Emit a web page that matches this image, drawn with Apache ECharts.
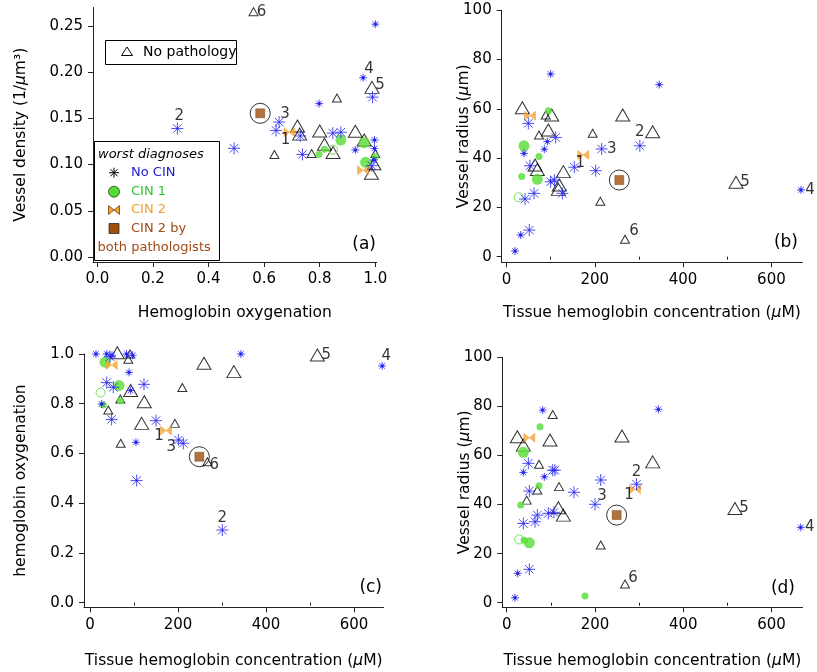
<!DOCTYPE html>
<html><head><meta charset="utf-8">
<script src="https://cdn.jsdelivr.net/npm/echarts@6/dist/echarts.min.js"></script>
<style>html,body{margin:0;padding:0;background:#fff}#c{width:817px;height:672px}</style>
</head><body><div id="c"></div>
<script>
// ================= DATA =================
// Panel (a): x = hemoglobin oxygenation, y = vessel density (1/um^3)
const aNoCinBig = [[0.288,0.139],[0.492,0.1176],[0.654,0.146],[0.643,0.137],[0.73,0.131],[0.738,0.111],[0.847,0.134],[0.876,0.135],[0.990,0.173],[0.988,0.0988]];
const aNoCinSmall = [[1.0,0.252],[0.956,0.194],[0.798,0.166],[0.928,0.1158],[0.997,0.1266],[0.997,0.1176],[0.995,0.105]];
const aCin1Big = [[0.876,0.1266],[0.965,0.1025],[0.960,0.1237]];
const aCin1Small = [[0.797,0.111],[0.817,0.1166],[1.0,0.1085]];
const aCin1Open = [[0.848,0.116]];
const aCin2 = [[0.691,0.135],[0.956,0.094]];
const aCin2Both = [[0.586,0.1555]];
const aNoPathBig = [[0.72,0.1418],[0.80,0.1364],[0.928,0.136],[0.960,0.1266],[0.986,0.0906],[0.988,0.1836],[0.728,0.133],[0.848,0.113],[0.817,0.122],[0.995,0.101]];
const aNoPathSmall = [[0.562,0.2655],[0.862,0.172],[0.637,0.111],[0.771,0.112],[1.0,0.112]];
const aNotes = [[0.562,0.2655,'6'],[0.288,0.139,'2'],[0.956,0.194,'4'],[0.988,0.1836,'5'],[0.654,0.146,'3'],[0.691,0.135,'1']];

// Panel (b): x = tissue hemoglobin concentration (uM), y = vessel radius (um)
const bNoCinBig = [[49.4,54.1],[111.4,48.4],[53.2,36.9],[100,30.4],[108.3,31.1],[126.4,25.7],[153.6,36.3],[215.6,43.7],[202,34.9],[41.9,23.4],[62.3,25.7],[51.6,10.8],[302,45]];
const bNoCinSmall = [[100,74.1],[92.4,46.7],[85.6,43.6],[39.6,41.9],[32.2,8.8],[19.3,2.3],[346,69.8],[667,27.1]];
const bCin1Big = [[39.6,45],[69.8,31.4]];
const bCin1Small = [[73.6,40.6],[34.4,32.5],[94.7,59.2]];
const bCin1Open = [[27.6,24.1]];
const bCin2 = [[53.2,57.2],[174,41.3]];
const bCin2Both = [[255.5,31.1]];
const bNoPathBig = [[35.8,60.4],[102.4,57.5],[94.7,51.4],[64.6,37.2],[69.8,35.4],[128.7,34.5],[119.6,29.1],[117.4,27.3],[263.2,57.5],[331,50.7],[519.8,30.2]];
const bNoPathSmall = [[88.8,57.5],[73.6,49.4],[195.2,50.1],[212.5,22.5],[268.4,7.06]];
const bNotes = [[302,45,'2'],[215.6,43.7,'3'],[174,41.3,'1'],[268.4,7.06,'6'],[519.8,30.2,'5'],[667,27.1,'4']];

// Panel (c): x = tissue hemoglobin concentration (uM), y = hemoglobin oxygenation
const cNoCinBig = [[45.5,0.989],[38,0.885],[53,0.866],[122.7,0.878],[49.2,0.737],[150,0.732],[200.8,0.654],[212,0.641],[106,0.491],[300.8,0.292]];
const cNoCinSmall = [[13.6,1.0],[38,1.0],[50,0.995],[83,1.0],[97,0.995],[88.6,0.926],[92.4,0.853],[26.5,0.799],[104.5,0.645],[343,1.0],[664,0.952]];
const cCin1Big = [[34,0.967],[66,0.873]];
const cCin1Small = [[69,0.812],[30,0.795]];
const cCin1Open = [[24.2,0.845]];
const cCin2 = [[49.2,0.956],[172.7,0.692]];
const cCin2Both = [[248.5,0.587]];
const cNoPathBig = [[62,1.005],[92.4,0.853],[123.4,0.808],[117.4,0.721],[259,0.963],[327,0.929],[516.7,0.996]];
const cNoPathSmall = [[91,1.0],[87,0.979],[69,0.819],[41.6,0.775],[193,0.721],[209.8,0.865],[69.8,0.641],[266.6,0.567]];
const cNotes = [[172.7,0.692,'1'],[200.8,0.654,'3'],[266.6,0.567,'6'],[300.8,0.292,'2'],[516.7,0.996,'5'],[664,0.952,'4']];

// Panel (d): x = tissue hemoglobin concentration (uM), y = vessel radius (um)
const dNoCinBig = [[49,56.8],[104.2,54],[109,54],[213,50],[51.2,45.5],[152.4,45],[200,40.1],[69.4,35.7],[64,33],[37.6,32.3],[94.3,36.4],[107,36.8],[51.2,13.6],[294,48.3]];
const dNoCinSmall = [[81.5,78.5],[37.6,53.1],[85.2,51.3],[24.9,12],[18.8,2.0],[343.4,78.8],[666,30.7]];
const dCin1Big = [[37.6,61.3],[51.2,24.4]];
const dCin1Small = [[75.4,71.7],[73.2,47.7],[31.7,39.8],[39.2,25.5],[177.3,2.7]];
const dCin1Open = [[27.9,25.8]];
const dCin2 = [[51.2,67.2],[290.6,46.2]];
const dCin2Both = [[249,35.7]];
const dNoPathBig = [[24,67.6],[98,66.3],[37.6,64.2],[261,67.9],[116.9,38.7],[128.2,35.7],[330.7,57.4],[517,38.4]];
const dNoPathSmall = [[104.2,76.7],[73.2,56.4],[118.5,47.3],[69.4,45.9],[45.3,41.8],[213,23.5],[268,7.6]];
const dNotes = [[200,40.1,'3'],[294,48.3,'2'],[290.6,46.2,'1'],[268,7.6,'6'],[517,38.4,'5'],[666,30.7,'4']];

// tick values
const ticksOxy = [0,0.2,0.4,0.6,0.8,1.0];
const ticksDensity = [0,0.05,0.10,0.15,0.20,0.25];
const ticksConc = [0,200,400,600];
const ticksConcMinor = [100,300,500];
const ticksRadius = [0,20,40,60,80,100];

// ================= STYLE / LAYOUT =================
const FONT = 'DejaVu Sans';
const BLUE = '#2020ee', GREEN = '#55dd33', ORANGE = '#f5a533', BROWN = '#a0500c';
const STAR = 'path://M0,-10L0,10M-10,0L10,0M-7.07,-7.07L7.07,7.07M-7.07,7.07L7.07,-7.07';
const STAR_DOT = STAR + 'M3,0A3,3,0,1,1,-3,0A3,3,0,1,1,3,0Z';
const BOWTIE = 'path://M-10,-8L0,0L-10,8ZM10,-8L0,0L10,8Z';

// axis extents include a small margin so the two axis lines meet at the corner, as in the original
const panels = [
  {grid:{left:93,top:7.5,width:283.7,height:254.5}, xr:[-0.0155,1.005], yr:[-0.0054,0.27], xt:ticksOxy, xm:[], yt:ticksDensity, xd:1, yd:2,
   xname:'Hemoglobin oxygenation', yname:'Vessel density (1/{i|μ}m³)', xgap:43, ygap:64,
   s:[aNoCinBig,aNoCinSmall,aCin1Big,aCin1Small,aCin1Open,aCin2,aCin2Both,aNoPathBig,aNoPathSmall], notes:aNotes,
   off:[[8,0],[2,-12],[6,-9],[8,-2],[6,-8],[-4,8]], letter:'(a)', lx:376, ly:245},
  {grid:{left:501.7,top:10.2,width:300.6,height:252.1}, xr:[-10.9,670], yr:[-2.27,100], xt:ticksConc, xm:ticksConcMinor, yt:ticksRadius, xd:0, yd:0,
   xname:'Tissue hemoglobin concentration ({i|μ}M)', yname:'Vessel radius ({i|μ}m)', xgap:43, ygap:30,
   s:[bNoCinBig,bNoCinSmall,bCin1Big,bCin1Small,bCin1Open,bCin2,bCin2Both,bNoPathBig,bNoPathSmall], notes:bNotes,
   off:[[0,-14],[10,0],[-3,8],[9,-8],[9,0],[9,0]], letter:'(b)', lx:798, ly:243},
  {grid:{left:84,top:354,width:299.5,height:253.3}, xr:[-13.6,667], yr:[-0.0185,1], xt:ticksConc, xm:ticksConcMinor, yt:ticksOxy, xd:0, yd:1,
   xname:'Tissue hemoglobin concentration ({i|μ}M)', yname:'hemoglobin oxygenation', xgap:46, ygap:55,
   s:[cNoCinBig,cNoCinSmall,cCin1Big,cCin1Small,cCin1Open,cCin2,cCin2Both,cNoPathBig,cNoPathSmall], notes:cNotes,
   off:[[-7,6],[-7,7],[7,3],[0,-12],[9,0],[4,-10]], letter:'(c)', lx:382, ly:588},
  {grid:{left:502.3,top:357.3,width:300.2,height:250}, xr:[-10,670], yr:[-1.87,100], xt:ticksConc, xm:ticksConcMinor, yt:ticksRadius, xd:0, yd:0,
   xname:'Tissue hemoglobin concentration ({i|μ}M)', yname:'Vessel radius ({i|μ}m)', xgap:46, ygap:29,
   s:[dNoCinBig,dNoCinSmall,dCin1Big,dCin1Small,dCin1Open,dCin2,dCin2Both,dNoPathBig,dNoPathSmall], notes:dNotes,
   off:[[7,-8],[0,-12],[-6,6],[8,-6],[9,0],[9,0]], letter:'(d)', lx:795, ly:589}
];

const grids = [], xAxes = [], yAxes = [], series = [], graphics = [];
const nameStyle = {color:'#000', fontSize:15.5, fontFamily:FONT, rich:{i:{fontStyle:'italic', fontSize:15.5, fontFamily:FONT}}};
const lineSt = {color:'#222', width:1};

panels.forEach((p, gi) => {
  grids.push(p.grid);
  const xi = xAxes.length;
  xAxes.push({type:'value', gridIndex:gi, position:'bottom', min:p.xr[0], max:p.xr[1],
    axisLine:{show:true, onZero:false, lineStyle:lineSt},
    axisTick:{show:true, length:5, customValues:p.xt, lineStyle:lineSt},
    axisLabel:{customValues:p.xt, margin:10, color:'#000', fontSize:15, fontFamily:FONT, formatter:v=>v.toFixed(p.xd)},
    splitLine:{show:false}, name:p.xname, nameLocation:'middle', nameGap:p.xgap, nameMoveOverlap:false, nameTextStyle:nameStyle});
  xAxes.push({type:'value', gridIndex:gi, position:'bottom', min:p.xr[0], max:p.xr[1],
    axisLine:{show:false}, axisTick:{show:p.xm.length>0, length:3, customValues:p.xm.length?p.xm:[0], lineStyle:lineSt},
    axisLabel:{show:false}, splitLine:{show:false}});
  yAxes.push({type:'value', gridIndex:gi, position:'left', min:p.yr[0], max:p.yr[1],
    axisLine:{show:true, onZero:false, lineStyle:lineSt},
    axisTick:{show:true, length:5, customValues:p.yt, lineStyle:lineSt},
    axisLabel:{customValues:p.yt, margin:10, color:'#000', fontSize:15, fontFamily:FONT, formatter:v=>v.toFixed(p.yd)},
    splitLine:{show:false}, name:p.yname, nameLocation:'middle', nameGap:p.ygap, nameMoveOverlap:false, nameTextStyle:nameStyle});
  const base = {type:'scatter', xAxisIndex:xi, yAxisIndex:gi, clip:false, silent:true, animation:false};
  const [noBig,noSmall,c1Big,c1Small,c1Open,c2,c2Both,npBig,npSmall] = p.s;
  series.push(Object.assign({}, base, {data:npBig, symbol:'triangle', symbolSize:[14,12], itemStyle:{color:'rgba(0,0,0,0)', borderColor:'#000', borderWidth:1}, z:2}));
  series.push(Object.assign({}, base, {data:npSmall, symbol:'triangle', symbolSize:[9,8], itemStyle:{color:'rgba(0,0,0,0)', borderColor:'#000', borderWidth:1}, z:2}));
  series.push(Object.assign({}, base, {data:c1Big, symbol:'circle', symbolSize:11, itemStyle:{color:GREEN}, z:3}));
  series.push(Object.assign({}, base, {data:c1Small, symbol:'circle', symbolSize:7, itemStyle:{color:GREEN}, z:3}));
  series.push(Object.assign({}, base, {data:c1Open, symbol:'circle', symbolSize:9, itemStyle:{color:'rgba(0,0,0,0)', borderColor:GREEN, borderWidth:1}, z:3}));
  series.push(Object.assign({}, base, {data:c2, symbol:BOWTIE, symbolSize:[11,9], itemStyle:{color:ORANGE, borderColor:'#e8901a', borderWidth:0.5}, z:4}));
  series.push(Object.assign({}, base, {data:c2Both, symbol:'circle', symbolSize:20, itemStyle:{color:'rgba(0,0,0,0)', borderColor:'#000', borderWidth:1}, z:4}));
  series.push(Object.assign({}, base, {data:c2Both, symbol:'rect', symbolSize:9, itemStyle:{color:BROWN, borderColor:'#6a3000', borderWidth:0.5}, z:5}));
  series.push(Object.assign({}, base, {data:noBig, symbol:STAR, symbolSize:12, itemStyle:{color:BLUE, borderColor:BLUE, borderWidth:1}, z:6}));
  series.push(Object.assign({}, base, {data:noSmall, symbol:STAR_DOT, symbolSize:8, itemStyle:{color:BLUE, borderColor:BLUE, borderWidth:1}, z:6}));
  series.push(Object.assign({}, base, {
    data:p.notes.map((n,k)=>({value:[n[0],n[1]], name:n[2], label:{offset:p.off[k]}})),
    symbol:'circle', symbolSize:1, itemStyle:{color:'rgba(0,0,0,0)'}, z:7,
    label:{show:true, position:'inside', formatter:q=>q.name, color:'#000', fontSize:15, fontFamily:FONT}}));
  graphics.push({type:'text', x:p.lx, y:p.ly, style:{text:p.letter, fill:'#000', font:'17px "DejaVu Sans"', textAlign:'right', textVerticalAlign:'middle'}, z:10});
});

// Legend boxes (panel a)
const LF = '13px "DejaVu Sans"';
const lx = 114, ly = 172.7, lr = 5;
graphics.push(
  {type:'rect', shape:{x:105.5, y:40.5, width:131, height:24}, style:{fill:'#fff', stroke:'#000', lineWidth:1}, z:20},
  {type:'polygon', shape:{points:[[121.5,55.5],[132.5,55.5],[127,47]]}, style:{fill:'none', stroke:'#000', lineWidth:1}, z:21},
  {type:'text', x:143, y:52.5, style:{text:'No pathology', font:'14px "DejaVu Sans"', fill:'#000', textVerticalAlign:'middle'}, z:21},
  {type:'rect', shape:{x:94.5, y:141.5, width:125, height:119}, style:{fill:'#fff', stroke:'#000', lineWidth:1}, z:20},
  {type:'text', x:98, y:154.5, style:{text:'worst diagnoses', font:'italic 13px "DejaVu Sans"', fill:'#000', textVerticalAlign:'middle'}, z:21},
  {type:'line', shape:{x1:lx, y1:ly-lr, x2:lx, y2:ly+lr}, style:{stroke:'#000', lineWidth:1}, z:21},
  {type:'line', shape:{x1:lx-lr, y1:ly, x2:lx+lr, y2:ly}, style:{stroke:'#000', lineWidth:1}, z:21},
  {type:'line', shape:{x1:lx-3.6, y1:ly-3.6, x2:lx+3.6, y2:ly+3.6}, style:{stroke:'#000', lineWidth:1}, z:21},
  {type:'line', shape:{x1:lx-3.6, y1:ly+3.6, x2:lx+3.6, y2:ly-3.6}, style:{stroke:'#000', lineWidth:1}, z:21},
  {type:'text', x:131, y:173, style:{text:'No CIN', font:LF, fill:'#1a1acc', textVerticalAlign:'middle'}, z:21},
  {type:'circle', shape:{cx:114, cy:191.7, r:5.5}, style:{fill:GREEN, stroke:'#000', lineWidth:0.6}, z:21},
  {type:'text', x:131, y:191.7, style:{text:'CIN 1', font:LF, fill:'#2ec42e', textVerticalAlign:'middle'}, z:21},
  {type:'polygon', shape:{points:[[108.5,205.5],[114,210],[108.5,214.5]]}, style:{fill:ORANGE, stroke:'#704010', lineWidth:0.8}, z:21},
  {type:'polygon', shape:{points:[[119.5,205.5],[114,210],[119.5,214.5]]}, style:{fill:ORANGE, stroke:'#704010', lineWidth:0.8}, z:21},
  {type:'text', x:131, y:210, style:{text:'CIN 2', font:LF, fill:'#f0a030', textVerticalAlign:'middle'}, z:21},
  {type:'rect', shape:{x:109, y:223.5, width:10, height:10}, style:{fill:BROWN, stroke:'#000', lineWidth:0.6}, z:21},
  {type:'text', x:131, y:228.5, style:{text:'CIN 2 by', font:LF, fill:'#a04a14', textVerticalAlign:'middle'}, z:21},
  {type:'text', x:97.5, y:247.5, style:{text:'both pathologists', font:LF, fill:'#a04a14', textVerticalAlign:'middle'}, z:21}
);

const chart = echarts.init(document.getElementById('c'), null, {renderer:'canvas'});
chart.setOption({animation:false, backgroundColor:'#fff', grid:grids, xAxis:xAxes, yAxis:yAxes, series:series, graphic:graphics});
</script></body></html>
